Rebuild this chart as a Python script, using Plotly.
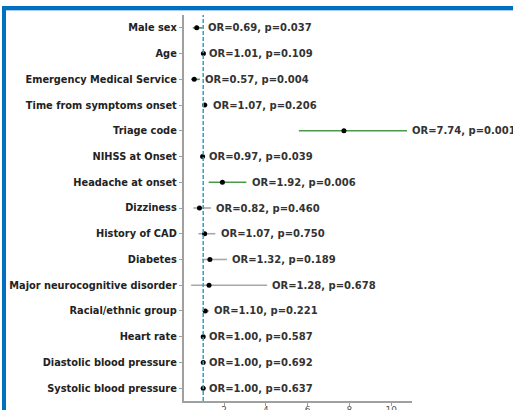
import plotly.graph_objects as go

categories = ["Male sex", "Age", "Emergency Medical Service", "Time from symptoms onset",
              "Triage code", "NIHSS at Onset", "Headache at onset", "Dizziness",
              "History of CAD", "Diabetes", "Major neurocognitive disorder",
              "Racial/ethnic group", "Heart rate", "Diastolic blood pressure",
              "Systolic blood pressure"]
odds_ratio = [0.69, 1.01, 0.57, 1.07, 7.74, 0.97, 1.92, 0.82, 1.07, 1.32, 1.28, 1.10, 1.00, 1.00, 1.00]
ci_lower = [0.50, 0.998, 0.42, 0.96, 5.58, 0.94, 1.26, 0.53, 0.77, 0.94, 0.42, 0.94, 0.99, 0.99, 0.99]
ci_upper = [0.97, 1.03, 0.84, 1.21, 10.76, 0.998, 3.07, 1.37, 1.58, 2.14, 4.06, 1.28, 1.01, 1.01, 1.01]
p_values = [0.037, 0.109, 0.004, 0.206, 0.001, 0.039, 0.006, 0.460, 0.750, 0.189, 0.678, 0.221, 0.587, 0.692, 0.637]
x_ticks = [2, 4, 6, 8, 10]

W, H = 513, 410
L, R, T, B = 184, 101, 15, 9
pw, ph = W - L - R, H - T - B

GREEN = "#4a9a4a"
GRAY = "#a8a8a8"

fig = go.Figure()
ypos = list(range(len(categories)))
for i, y in enumerate(ypos):
    col = GREEN if p_values[i] < 0.05 else GRAY
    fig.add_trace(go.Scatter(x=[ci_lower[i], ci_upper[i]], y=[y, y], mode="lines",
                             line=dict(color=col, width=1.6), showlegend=False, hoverinfo="skip"))
fig.add_trace(go.Scatter(x=odds_ratio, y=ypos, mode="markers",
                         marker=dict(color="black", size=5), showlegend=False))

annotations = []
for i, y in enumerate(ypos):
    annotations.append(dict(x=ci_upper[i] + 0.16, y=y, xref="x", yref="y",
                            text=f"<b>OR={odds_ratio[i]:.2f}, p={p_values[i]:.3f}</b>",
                            showarrow=False, xanchor="left", yanchor="middle",
                            font=dict(family="DejaVu Sans", size=10, color="#333333")))

def px2paper_x(px):
    return (px - L) / pw

def px2paper_y(py):
    return (H - B - py) / ph

shapes = [
    dict(type="line", xref="x", yref="paper", x0=1, x1=1, y0=0, y1=1,
         line=dict(color="#3b9ac4", width=1.5, dash="4px,2px")),
    dict(type="line", xref="paper", yref="paper",
         x0=px2paper_x(4), x1=px2paper_x(530), y0=px2paper_y(10.5), y1=px2paper_y(10.5),
         line=dict(color="#a8cbe8", width=1), layer="above"),
    dict(type="rect", xref="paper", yref="paper",
         x0=px2paper_x(4), x1=px2paper_x(530), y0=px2paper_y(8), y1=px2paper_y(430),
         line=dict(color="#0070c0", width=4), fillcolor="rgba(0,0,0,0)", layer="above"),
]

fig.update_layout(
    width=W, height=H, margin=dict(l=L, r=R, t=T, b=B, autoexpand=False),
    paper_bgcolor="white", plot_bgcolor="white",
    annotations=annotations, shapes=shapes,
    xaxis=dict(range=[0.08, 11.0], tickvals=x_ticks, showgrid=False, zeroline=False,
               automargin=False, ticklabelstandoff=-4,
               showline=True, linecolor="#a0a0a0", linewidth=1.5,
               ticks="outside", ticklen=3.5, tickcolor="#a0a0a0",
               tickfont=dict(family="DejaVu Sans", size=9, color="#555555")),
    yaxis=dict(range=[len(categories) - 0.5, -0.5], tickvals=ypos, ticktext=categories,
               automargin=False,
               showgrid=False, zeroline=False, showline=True, linecolor="#a0a0a0", linewidth=1.5,
               ticks="outside", ticklen=3.5, tickcolor="#a0a0a0",
               tickfont=dict(family="DejaVu Sans", size=9.8, color="#222222", weight="bold")),
)

fig.write_html("out.html", config={"displayModeBar": False},
               post_script="document.body.style.margin='0px';document.body.style.overflow='hidden';")
